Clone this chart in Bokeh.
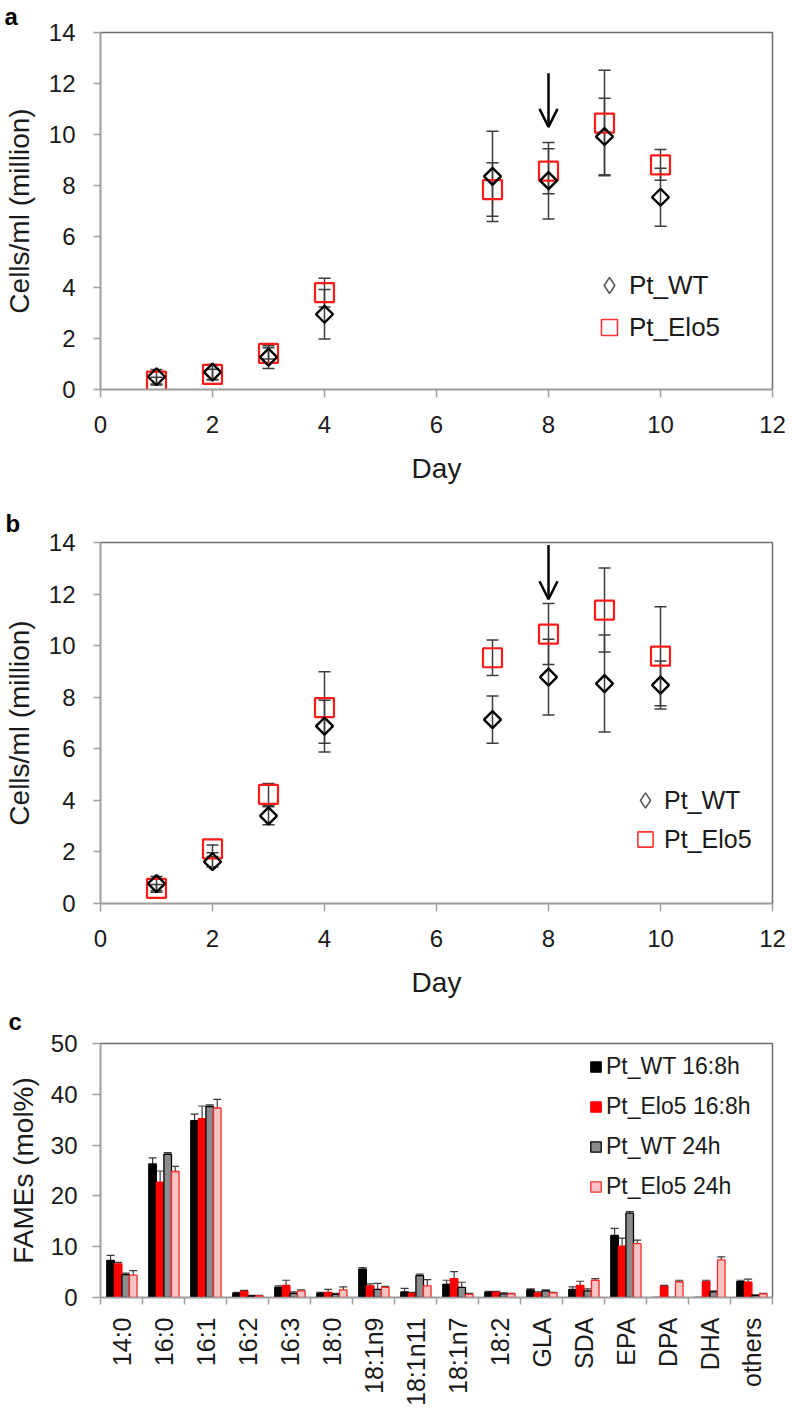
import math
from bokeh.plotting import figure
from bokeh.models import (ColumnDataSource, Whisker, TeeHead, Legend, LegendItem, Arrow,
                          OpenHead, FixedTicker, Range1d)
from bokeh.layouts import column
from bokeh.embed import file_html
from bokeh.resources import INLINE

FONT = "Liberation Sans"

# ---------------- data ----------------
days = [1, 2, 3, 4, 7, 8, 9, 10]

a_wt = [0.50, 0.68, 1.27, 2.95, 8.36, 8.19, 9.92, 7.54]
a_wt_err = [0.28, 0.30, 0.45, 0.97, 1.77, 1.50, 1.50, 1.14]
a_elo = [0.33, 0.59, 1.42, 3.80, 7.84, 8.56, 10.45, 8.81]
a_elo_err = [0.15, 0.20, 0.22, 0.56, 1.05, 0.88, 2.07, 0.60]

b_wt = [0.77, 1.62, 3.40, 6.88, 7.13, 8.78, 8.53, 8.47]
b_wt_err = [0.28, 0.20, 0.35, 1.00, 0.92, 1.47, 1.88, 0.93]
b_elo = [0.59, 2.12, 4.23, 7.60, 9.53, 10.45, 11.38, 9.59]
b_elo_err = [0.15, 0.15, 0.42, 1.39, 0.69, 1.18, 1.63, 1.92]

arrow_day = 8
a_arrow = (12.4, 10.3)
b_arrow = (13.9, 11.8)

day_ticks = [0, 2, 4, 6, 8, 10, 12]
cell_ticks = [0, 2, 4, 6, 8, 10, 12, 14]

fames = ["14:0", "16:0", "16:1", "16:2", "16:3", "18:0", "18:1n9", "18:1n11",
         "18:1n7", "18:2", "GLA", "SDA", "EPA", "DPA", "DHA", "others"]
wt_168 = [7.3, 26.3, 34.8, 0.8, 2.0, 0.8, 5.6, 1.1, 2.6, 1.0, 1.5, 1.6, 12.2, 0.0, 0.0, 3.1]
elo_168 = [6.6, 22.7, 35.2, 1.2, 2.4, 1.0, 2.3, 0.8, 3.7, 1.0, 0.9, 2.4, 10.1, 2.2, 3.1, 3.0]
wt_24 = [4.5, 28.2, 37.6, 0.3, 0.8, 0.6, 1.6, 4.3, 2.0, 0.7, 1.3, 1.3, 16.6, 0.0, 1.1, 0.4]
elo_24 = [4.4, 24.8, 37.3, 0.3, 1.3, 1.5, 2.0, 2.3, 0.6, 0.7, 0.9, 3.4, 10.6, 3.1, 7.4, 0.7]
wt_168_err = [1.0, 1.2, 1.3, 0.2, 0.3, 0.2, 0.3, 0.7, 0.8, 0.2, 0.2, 0.5, 1.4, 0.0, 0.0, 0.3]
elo_168_err = [0.3, 2.2, 2.5, 0.2, 1.0, 0.6, 0.4, 0.2, 1.4, 0.2, 0.2, 0.8, 1.6, 0.2, 0.3, 0.6]
wt_24_err = [0.3, 0.3, 0.3, 0.1, 0.3, 0.2, 1.2, 0.3, 1.0, 0.2, 0.2, 0.4, 0.3, 0.0, 0.2, 0.1]
elo_24_err = [0.9, 1.0, 1.7, 0.1, 0.2, 0.6, 0.2, 1.2, 0.2, 0.1, 0.1, 0.3, 0.7, 0.3, 0.6, 0.1]
fame_ticks = [0, 10, 20, 30, 40, 50]

series_c = [
    ("Pt_WT 16:8h", wt_168, wt_168_err, "#000000", "#000000"),
    ("Pt_Elo5 16:8h", elo_168, elo_168_err, "#ff0000", "#ff0000"),
    ("Pt_WT 24h", wt_24, wt_24_err, "#8c8c8c", "#000000"),
    ("Pt_Elo5 24h", elo_24, elo_24_err, "#f8c4c4", "#ff2a2a"),
]
offsets = [-0.26, -0.08, 0.10, 0.28]
bar_w = 0.18

W = 790
NAN = float("nan")


def style_axes(p, tick_font="24px", axis_font="28px"):
    p.xgrid.visible = False
    p.ygrid.visible = False
    p.outline_line_color = "#6e6e6e"
    p.outline_line_width = 1.5
    p.background_fill_color = "white"
    p.border_fill_color = "white"
    for ax in (p.xaxis[0], p.yaxis[0]):
        ax.axis_line_color = "#a0a0a0"
        ax.axis_line_width = 1.5
        ax.major_tick_line_color = "#a0a0a0"
        ax.major_tick_line_width = 1.5
        ax.minor_tick_line_color = None
        ax.major_tick_in = 0
        ax.major_label_text_font = FONT
        ax.major_label_text_font_size = tick_font
        ax.major_label_text_color = "#1a1a1a"
        ax.axis_label_text_font = FONT
        ax.axis_label_text_font_size = axis_font
        ax.axis_label_text_font_style = "normal"
        ax.axis_label_text_color = "#1a1a1a"


def panel_letter(p, letter, left, standoff):
    p.title.text = letter
    p.title.align = "left"
    p.title.vertical_align = "top"
    p.title.offset = -left + 1
    p.title.standoff = standoff
    p.title.text_font = FONT
    p.title.text_font_size = "24px"
    p.title.text_font_style = "bold"
    p.title.text_color = "black"


def growth_panel(letter, wt, wt_err, elo, elo_err, arrow_ys, height, left, frame_w,
                 top, frame_h, letter_standoff, leg_xy, leg_font, leg_box, leg_spacing):
    p = figure(width=W, height=height, output_backend="svg", toolbar_location=None,
               x_range=Range1d(0, 12), y_range=Range1d(0, 14),
               min_border_left=left, min_border_right=W - left - frame_w,
               min_border_top=top, min_border_bottom=height - top - frame_h)
    style_axes(p)
    panel_letter(p, letter, left, letter_standoff)
    p.xaxis.ticker = FixedTicker(ticks=day_ticks)
    p.yaxis.ticker = FixedTicker(ticks=cell_ticks)
    p.xaxis.major_tick_out = 8
    p.yaxis.major_tick_out = 7
    p.xaxis.major_label_standoff = 18
    p.yaxis.major_label_standoff = 18
    p.xaxis.axis_label = "Day"
    p.yaxis.axis_label = "Cells/ml (million)"
    p.xaxis.axis_label_standoff = 17
    p.yaxis.axis_label_standoff = 11

    src_wt = ColumnDataSource(dict(x=days, y=wt,
                                   lo=[v - e for v, e in zip(wt, wt_err)],
                                   hi=[v + e for v, e in zip(wt, wt_err)]))
    src_elo = ColumnDataSource(dict(x=days, y=elo,
                                    lo=[v - e for v, e in zip(elo, elo_err)],
                                    hi=[v + e for v, e in zip(elo, elo_err)]))
    for src in (src_wt, src_elo):
        wh = Whisker(base="x", lower="lo", upper="hi", source=src,
                     line_color="#3c3c3c", line_width=1.5,
                     upper_head=TeeHead(size=12, line_color="#3c3c3c", line_width=1.5),
                     lower_head=TeeHead(size=12, line_color="#3c3c3c", line_width=1.5))
        p.add_layout(wh)

    p.scatter("x", "y", source=src_elo, marker="square", size=19,
              fill_color=None, line_color="#ff1a1a", line_width=2.2)
    p.scatter("x", "y", source=src_wt, marker="square", size=12, angle=math.pi / 4,
              fill_color=None, line_color="#000000", line_width=2.4)

    # legend swatches only (NaN position: nothing drawn in the plot area)
    key = ColumnDataSource(dict(x=[NAN], y=[NAN]))
    k_wt = p.scatter("x", "y", source=key, marker="diamond",
                     fill_color=None, line_color="#555555", line_width=1.5)
    k_elo = p.scatter("x", "y", source=key, marker="square",
                      fill_color=None, line_color="#ff3333", line_width=1.6)

    p.add_layout(Arrow(x_start=arrow_day, y_start=arrow_ys[0], x_end=arrow_day, y_end=arrow_ys[1],
                       line_width=2.5, line_color="black",
                       end=OpenHead(size=18, line_width=2.5, line_color="black")))

    leg = Legend(items=[LegendItem(label="Pt_WT", renderers=[k_wt]),
                        LegendItem(label="Pt_Elo5", renderers=[k_elo])],
                 location=leg_xy, orientation="vertical",
                 label_text_font=FONT, label_text_font_size=leg_font,
                 label_text_color="#1a1a1a",
                 glyph_width=leg_box, glyph_height=leg_box, label_height=leg_box,
                 spacing=leg_spacing, padding=0, margin=0, label_standoff=0,
                 border_line_color=None, background_fill_alpha=0)
    p.add_layout(leg)
    return p


pa = growth_panel("a", a_wt, a_wt_err, a_elo, a_elo_err, a_arrow,
                  height=500, left=97, frame_w=675, top=32, frame_h=357,
                  letter_standoff=2, leg_xy=(489, 42), leg_font="26px",
                  leg_box=40, leg_spacing=2)
pb = growth_panel("b", b_wt, b_wt_err, b_elo, b_elo_err, b_arrow,
                  height=500, left=96, frame_w=679, top=42, frame_h=364,
                  letter_standoff=8, leg_xy=(526, 45), leg_font="25px",
                  leg_box=38, leg_spacing=1)

# ---------------- panel c ----------------
HC = 413
left_c, frame_wc, top_c, frame_hc = 93, 684, 43, 254
pc = figure(width=W, height=HC, output_backend="svg", toolbar_location=None,
            x_range=Range1d(0, len(fames)), y_range=Range1d(0, 50),
            min_border_left=left_c, min_border_right=W - left_c - frame_wc,
            min_border_top=top_c, min_border_bottom=HC - top_c - frame_hc)
style_axes(pc)
panel_letter(pc, "c", left_c, 13)
centers = [i + 0.5 for i in range(len(fames))]
bounds = [i for i in range(len(fames) + 1)]
pc.xaxis.ticker = FixedTicker(ticks=centers, minor_ticks=bounds)
pc.xaxis.major_label_overrides = {c: f for c, f in zip(centers, fames)}
pc.xaxis.major_tick_out = 0
pc.xaxis.minor_tick_out = 7
pc.xaxis.minor_tick_in = 0
pc.xaxis.minor_tick_line_color = "#a0a0a0"
pc.xaxis.minor_tick_line_width = 1.5
pc.xaxis.major_label_orientation = math.pi / 2
pc.xaxis.major_label_text_font_size = "25px"
pc.xaxis.major_label_standoff = 13
pc.yaxis.ticker = FixedTicker(ticks=fame_ticks)
pc.yaxis.major_tick_out = 8
pc.yaxis.major_label_standoff = 15
pc.yaxis.axis_label = "FAMEs (mol%)"
pc.yaxis.axis_label_standoff = 9

items = []
for (name, vals, errs, fill, line), off in zip(series_c, offsets):
    xs = [c + off for c in centers]
    src = ColumnDataSource(dict(x=xs, top=vals))
    r = pc.vbar(x="x", top="top", width=bar_w, bottom=0, source=src,
                fill_color=fill, line_color=line, line_width=1.3)
    items.append(LegendItem(label=name, renderers=[r]))
    ex = [x for x, v, e in zip(xs, vals, errs) if e > 0 and v > 0]
    elo_ = [max(v - e, 0) for v, e in zip(vals, errs) if e > 0 and v > 0]
    ehi = [v + e for v, e in zip(vals, errs) if e > 0 and v > 0]
    esrc = ColumnDataSource(dict(x=ex, lo=elo_, hi=ehi))
    pc.add_layout(Whisker(base="x", lower="lo", upper="hi", source=esrc,
                          line_color="#3c3c3c", line_width=1.2,
                          upper_head=TeeHead(size=8, line_color="#3c3c3c", line_width=1.2),
                          lower_head=TeeHead(size=8, line_color="#3c3c3c", line_width=1.2)))

legc = Legend(items=items, location=(489, 97), orientation="vertical",
              label_text_font=FONT, label_text_font_size="23px", label_text_color="#1a1a1a",
              glyph_width=13, glyph_height=13, label_height=28, spacing=12,
              padding=0, margin=0, label_standoff=4,
              border_line_color=None, background_fill_alpha=0)
pc.add_layout(legc)

layout = column(pa, pb, pc, spacing=0)
open("out.html", "w").write(file_html(layout, INLINE))
